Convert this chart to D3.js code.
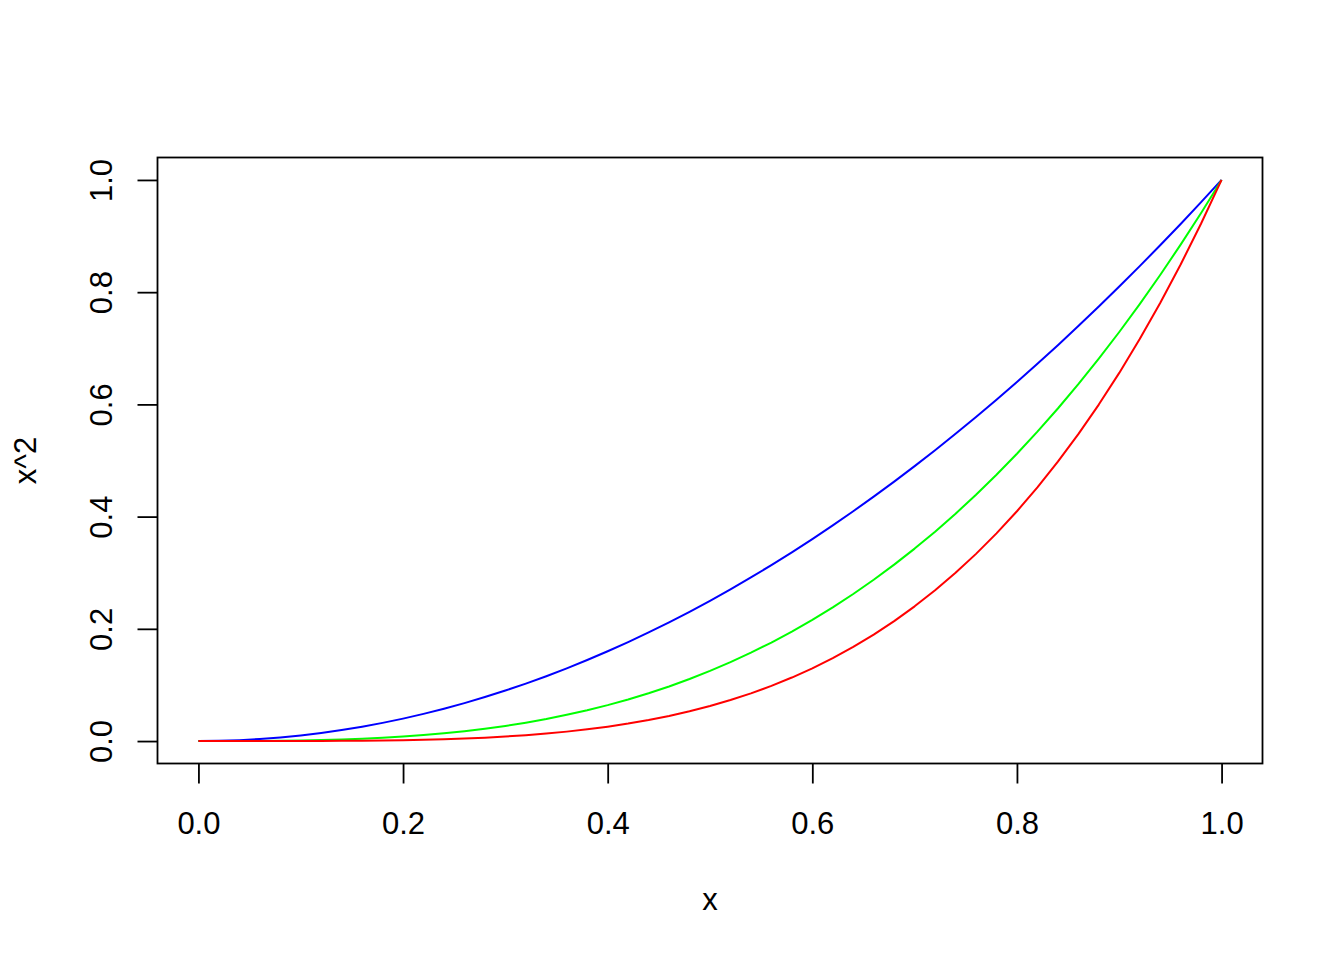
<!DOCTYPE html>
<html><head><meta charset="utf-8">
<script src="https://cdn.jsdelivr.net/npm/d3@7"></script>
<style>body{margin:0;background:#fff}svg text{font-family:"Liberation Sans",Arial,sans-serif;fill:#000}</style>
</head><body><svg id="c" width="1344" height="960"></svg>
<script>
const xs = [0,0.02,0.04,0.06,0.08,0.1,0.12,0.14,0.16,0.18,0.2,0.22,0.24,0.26,0.28,0.3,0.32,0.34,0.36,0.38,0.4,0.42,0.44,0.46,0.48,0.5,0.52,0.54,0.56,0.58,0.6,0.62,0.64,0.66,0.68,0.7,0.72,0.74,0.76,0.78,0.8,0.82,0.84,0.86,0.88,0.9,0.92,0.94,0.96,0.98,1];
const blueY = [0,0.0004,0.0016,0.0036,0.0064,0.01,0.0144,0.0196,0.0256,0.0324,0.04,0.0484,0.0576,0.0676,0.0784,0.09,0.1024,0.1156,0.1296,0.1444,0.16,0.1764,0.1936,0.2116,0.2304,0.25,0.2704,0.2916,0.3136,0.3364,0.36,0.3844,0.4096,0.4356,0.4624,0.49,0.5184,0.5476,0.5776,0.6084,0.64,0.6724,0.7056,0.7396,0.7744,0.81,0.8464,0.8836,0.9216,0.9604,1];
const greenY = [0,0.0000,0.0001,0.0002,0.0005,0.0010,0.0017,0.0027,0.0041,0.0058,0.0080,0.0106,0.0138,0.0176,0.0220,0.0270,0.0328,0.0393,0.0467,0.0549,0.0640,0.0741,0.0852,0.0973,0.1106,0.1250,0.1406,0.1575,0.1756,0.1951,0.2160,0.2383,0.2621,0.2875,0.3144,0.3430,0.3732,0.4052,0.4390,0.4746,0.5120,0.5514,0.5927,0.6361,0.6815,0.7290,0.7787,0.8306,0.8847,0.9412,1];
const redY = [0,0.0000,0.0000,0.0000,0.0000,0.0001,0.0002,0.0004,0.0007,0.0010,0.0016,0.0023,0.0033,0.0046,0.0061,0.0081,0.0105,0.0134,0.0168,0.0209,0.0256,0.0311,0.0375,0.0448,0.0531,0.0625,0.0731,0.0850,0.0983,0.1132,0.1296,0.1478,0.1678,0.1897,0.2138,0.2401,0.2687,0.2999,0.3336,0.3702,0.4096,0.4521,0.4979,0.5470,0.5997,0.6561,0.7164,0.7807,0.8493,0.9224,1];
const xTicks = [0,0.2,0.4,0.6,0.8,1];
const yTicks = [0,0.2,0.4,0.6,0.8,1];
const xLabel = "x", yLabel = "x^2";
const seriesColors = ["#0000FF","#00FF00","#FF0000"];

const svg = d3.select("#c");
const L = 157.5, R = 1262.5, T = 157.5, B = 763.5;
const pad = 0.04;
const x = d3.scaleLinear().domain([0 - pad, 1 + pad]).range([L, R]);
const y = d3.scaleLinear().domain([0 - pad, 1 + pad]).range([B, T]);
const fs = 31;

const series = [blueY, greenY, redY];
const line = d3.line().x((d,i)=>x(xs[i])).y(d=>y(d));
series.forEach((s,k)=>{
  svg.append("path").datum(s).attr("d", line).attr("fill","none")
    .attr("stroke", seriesColors[k]).attr("stroke-width", 2).attr("stroke-linejoin","round");
});

svg.append("rect").attr("x",L).attr("y",T).attr("width",R-L).attr("height",B-T)
  .attr("fill","none").attr("stroke","#000").attr("stroke-width",1.8);

const xa = svg.append("g").attr("transform",`translate(0,${B})`)
  .call(d3.axisBottom(x).tickValues(xTicks).tickSize(20).tickPadding(28).tickFormat(d3.format(".1f")));
xa.select(".domain").remove();
xa.selectAll("line").attr("stroke","#000").attr("stroke-width",1.8);
xa.selectAll("text").attr("font-size",fs).attr("font-family","Liberation Sans").attr("fill","#000");

const ya = svg.append("g").attr("transform",`translate(${L},0)`)
  .call(d3.axisLeft(y).tickValues(yTicks).tickSize(20).tickFormat(d3.format(".1f")));
ya.select(".domain").remove();
ya.selectAll("line").attr("stroke","#000").attr("stroke-width",1.8);
ya.selectAll("text").attr("font-size",fs).attr("font-family","Liberation Sans").attr("fill","#000")
  .attr("x",null).attr("dy",null).attr("text-anchor","middle")
  .attr("transform","translate(-54,0) rotate(-90)").attr("dominant-baseline","middle");

svg.append("text").attr("x",(L+R)/2).attr("y",902).attr("text-anchor","middle")
  .attr("dominant-baseline","middle").attr("font-size",fs).text(xLabel);
svg.append("text").attr("transform",`translate(28,${(T+B)/2}) rotate(-90)`).attr("text-anchor","middle")
  .attr("dominant-baseline","middle").attr("font-size",fs).text(yLabel);
</script></body></html>
